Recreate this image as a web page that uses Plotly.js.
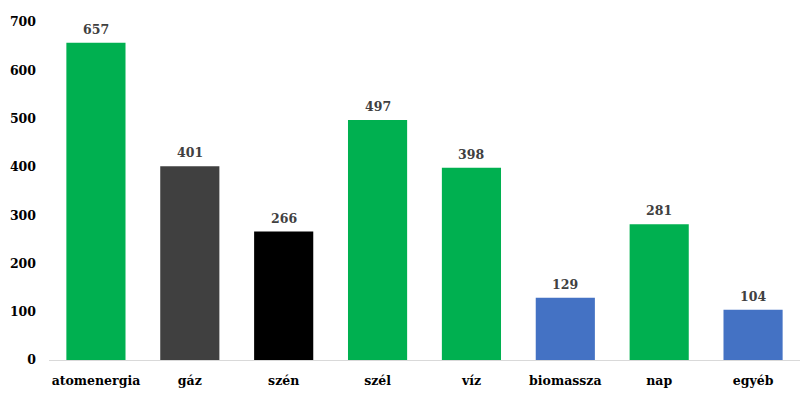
<!DOCTYPE html>
<html>
<head>
<meta charset="utf-8">
<script src="https://cdn.plot.ly/plotly-3.0.1.min.js"></script>
<style>html,body{margin:0;padding:0;background:#fff;}#chart{width:800px;height:400px;}</style>
</head>
<body>
<div id="chart"></div>
<script>
const categories = ["atomenergia", "gáz", "szén", "szél", "víz", "biomassza", "nap", "egyéb"];
const values = [657, 401, 266, 497, 398, 129, 281, 104];
const barColors = ["#00B050", "#404040", "#000000", "#00B050", "#00B050", "#4472C4", "#00B050", "#4472C4"];
const yTicks = [0, 100, 200, 300, 400, 500, 600, 700];

const FONT = "'DejaVu Serif', 'Liberation Serif', serif";

const trace = {
  type: "bar",
  x: categories,
  y: values,
  marker: { color: barColors },
  hoverinfo: "skip"
};

const annotations = categories.map((c, i) => ({
  x: c,
  y: values[i],
  xref: "x",
  yref: "y",
  text: String(values[i]),
  showarrow: false,
  yanchor: "bottom",
  yshift: 4,
  font: { family: FONT, size: 12.5, color: "#404040", weight: "bold" }
}));

const layout = {
  width: 800,
  height: 400,
  margin: { l: 49, r: 0, t: 22, b: 40 },
  paper_bgcolor: "#ffffff",
  plot_bgcolor: "#ffffff",
  showlegend: false,
  bargap: 0.37,
  font: { family: FONT, size: 12.5, color: "#000000", weight: "bold" },
  annotations: annotations,
  xaxis: {
    showgrid: false,
    zeroline: false,
    showline: true,
    linecolor: "#d9d9d9",
    linewidth: 1,
    ticks: "",
    ticklabelstandoff: 9,
    tickfont: { family: FONT, size: 12.5, color: "#000000", weight: "bold" }
  },
  yaxis: {
    range: [0, 700],
    tickvals: yTicks,
    ticktext: yTicks.map(String),
    showgrid: false,
    zeroline: false,
    showline: false,
    ticks: "",
    ticklabelstandoff: 12,
    tickfont: { family: FONT, size: 12.5, color: "#000000", weight: "bold" }
  }
};

Plotly.newPlot("chart", [trace], layout, { staticPlot: true, displayModeBar: false });
</script>
</body>
</html>
